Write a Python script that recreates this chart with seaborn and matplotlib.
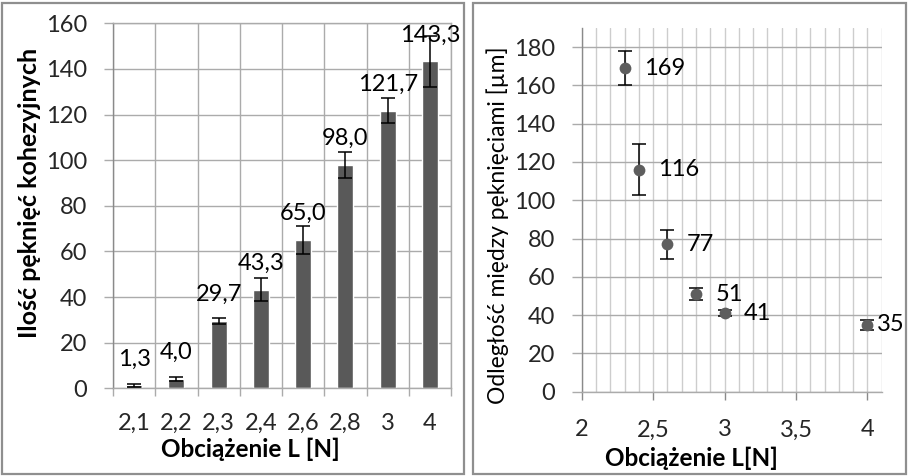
import matplotlib
matplotlib.use("Agg")
import matplotlib.pyplot as plt
from matplotlib.patches import Rectangle
from matplotlib.ticker import MultipleLocator, FixedLocator, FuncFormatter
import seaborn as sns
import pandas as pd

# Left panel: number of cohesive cracks per load level
load_labels = ["2,1", "2,2", "2,3", "2,4", "2,6", "2,8", "3", "4"]
crack_count = [1.3, 4.0, 29.7, 43.3, 65.0, 98.0, 121.7, 143.3]
crack_count_err = [0.6, 0.9, 1.3, 5.1, 6.3, 5.8, 5.6, 11.3]

# Right panel: spacing between cracks vs load
load_values = [2.3, 2.4, 2.6, 2.8, 3.0, 4.0]
crack_spacing = [169, 116, 77, 51, 41, 35]
crack_spacing_err = [9.0, 13.3, 7.7, 3.0, 1.5, 2.6]
spacing_label_dx = [14, 14, 14, 14, 14, 7]  # horizontal label offsets (pt)

sns.set_theme(style="white")
plt.rcParams["font.family"] = ["Lato", "DejaVu Sans"]
plt.rcParams["text.color"] = "black"

W, H = 909, 476
fig = plt.figure(figsize=(W / 100, H / 100), dpi=100)


def fx(px):
    return px / W


def fy(py):
    return 1 - py / H


GRID = "#ababab"
AXIS = "#8a8a8a"
BAR = "#595959"
FS = 17

# ---------------- left panel ----------------
ax1 = fig.add_axes([fx(113), fy(388.3), fx(451 - 113), (388.3 - 23.3) / H])
df1 = pd.DataFrame({"load": load_labels, "count": crack_count})
sns.barplot(data=df1, x="load", y="count", color=BAR, saturation=1,
            width=0.38, errorbar=None, ax=ax1, zorder=2)
ax1.errorbar(range(len(load_labels)), crack_count, yerr=crack_count_err,
             fmt="none", ecolor="black", elinewidth=1.1, capsize=5,
             capthick=1.1, zorder=3)
for i, v in enumerate(crack_count):
    ax1.annotate(f"{v:.1f}".replace(".", ","), (i, v), xytext=(0, 19),
                 textcoords="offset points", ha="center", va="center",
                 fontsize=FS, zorder=4)

ax1.set_xlim(-0.5, len(load_labels) - 0.5)
ax1.set_ylim(0, 160)
ax1.yaxis.set_major_locator(MultipleLocator(20))
ax1.xaxis.set_minor_locator(FixedLocator([i - 0.5 for i in range(len(load_labels) + 1)]))
ax1.set_axisbelow(True)
ax1.grid(axis="y", which="major", color=GRID, lw=1)
ax1.grid(axis="x", which="minor", color=GRID, lw=1)
ax1.grid(axis="x", which="major", visible=False)
for s in ax1.spines.values():
    s.set_color(GRID)
    s.set_linewidth(1)
ax1.spines["left"].set_color(AXIS)
ax1.tick_params(axis="y", which="major", direction="out", length=6.5,
                color=GRID, width=1, labelsize=FS, pad=12, left=True)
ax1.tick_params(axis="x", which="major", length=0, labelsize=FS, pad=18)
ax1.tick_params(axis="x", which="minor", direction="out", length=6,
                color=GRID, width=1, bottom=True)
ax1.set_xlabel("")
ax1.set_ylabel("")

fig.text(fx(30), fy(193), "Ilość pęknięć kohezyjnych", rotation=90,
         ha="center", va="center", fontsize=18, fontweight="bold")
fig.text(fx(250), fy(449), "Obciążenie L [N]", ha="center", va="center",
         fontsize=17.5, fontweight="bold")

# ---------------- right panel ----------------
ax2 = fig.add_axes([fx(581.7), fy(391.7), fx(300), (391.7 - 28) / H])
ax2.errorbar(load_values, crack_spacing, yerr=crack_spacing_err, fmt="none",
             ecolor="black", elinewidth=1.1, capsize=5, capthick=1.1, zorder=3)
df2 = pd.DataFrame({"load": load_values, "spacing": crack_spacing})
sns.scatterplot(data=df2, x="load", y="spacing", color="#5e5e5e", s=72,
                edgecolor="#5e5e5e", linewidth=0, ax=ax2, zorder=4)
for x, y, dx in zip(load_values, crack_spacing, spacing_label_dx):
    ax2.annotate(f"{y}", (x, y), xytext=(dx, 0), textcoords="offset points",
                 ha="left", va="center", fontsize=FS, zorder=5,
                 annotation_clip=False)

ax2.set_xlim(2, 4.1)
ax2.set_ylim(0, 190)
ax2.xaxis.set_major_locator(MultipleLocator(0.5))
ax2.xaxis.set_minor_locator(MultipleLocator(0.1))
ax2.yaxis.set_major_locator(FixedLocator(list(range(0, 181, 20))))
ax2.xaxis.set_major_formatter(FuncFormatter(lambda v, p: f"{v:g}".replace(".", ",")))
ax2.set_axisbelow(True)
ax2.grid(axis="y", which="major", color=GRID, lw=1)
ax2.grid(axis="x", which="both", color="#cdcdcd", lw=1)
ax2.spines["top"].set_visible(False)
ax2.spines["right"].set_visible(False)
ax2.spines["left"].set_color(AXIS)
ax2.spines["bottom"].set_color(GRID)
for s in ax2.spines.values():
    s.set_linewidth(1)
ax2.tick_params(axis="y", which="major", direction="out", length=7,
                color=GRID, width=1, labelsize=FS, pad=12, left=True)
ax2.tick_params(axis="x", which="major", direction="out", length=6,
                color=AXIS, width=1, labelsize=FS, pad=14, bottom=True)
ax2.tick_params(axis="x", which="minor", length=0)
ax2.set_xlabel("")
ax2.set_ylabel("")

fig.text(fx(498), fy(225), "Odległość między pęknięciami [µm]", rotation=90,
         ha="center", va="center", fontsize=16.5)
fig.text(fx(691), fy(458), "Obciążenie L[N]", ha="center", va="center",
         fontsize=17.5, fontweight="bold")

# panel frames
for x0, x1 in [(2, 464), (473, 906)]:
    fig.add_artist(Rectangle((fx(x0), fy(474)), fx(x1 - x0), (474 - 3) / H,
                             transform=fig.transFigure, fill=False,
                             ec="#8f8f8f", lw=1.6))

fig.savefig("out.png", dpi=100)
